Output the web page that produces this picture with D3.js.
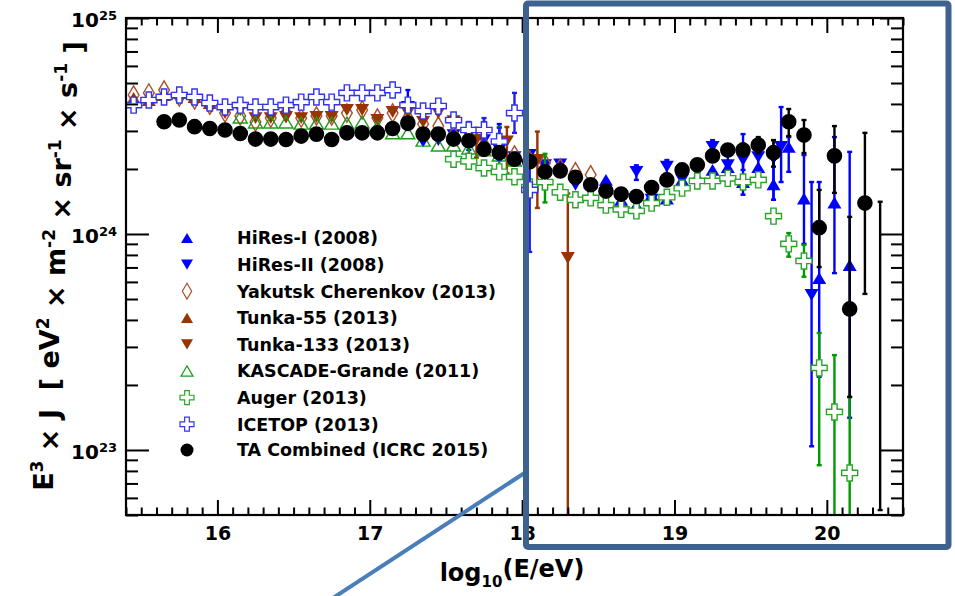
<!DOCTYPE html>
<html>
<head>
<meta charset="utf-8">
<script src="https://cdn.jsdelivr.net/npm/d3@7"></script>
<style>
  body { margin: 0; background: #fff; }
  svg { display: block; font-family: "DejaVu Sans", sans-serif; font-weight: bold; }
</style>
</head>
<body>
<div id="chart"></div>
<script>
// rows: [log10(E/eV), E^3 J, error low, error high]
var hiresI = [
  [18.55, 1.78e24], [18.65, 1.44e24], [18.75, 1.36e24], [18.85, 1.52e24], [18.95, 1.46e24],
  [19.05, 1.78e24], [19.15, 1.84e24], [19.25, 1.98e24], [19.35, 2.04e24, 1.85e24, 2.45e24],
  [19.45, 1.74e24, 1.52e24, 2.20e24], [19.55, 2.04e24, 1.78e24, 2.45e24], [19.65, 1.70e24, 1.44e24, 2.20e24],
  [19.75, 2.53e24, 1.94e24, 2.81e24], [19.85, 1.46e24, 9.0e23, 2.32e24], [19.95, 6.25e23, 2.18e23, 1.74e24],
  [20.05, 1.40e24, 6.59e23, 2.81e24], [20.15, 7.18e23, 1.41e23, 2.40e24]
];
var hiresII = [
  [17.25, 3.87e24, 3.03e24, 4.64e24], [17.35, 2.68e24], [17.45, 2.72e24], [17.55, 2.87e24],
  [17.65, 2.87e24, 2.45e24, 3.16e24], [17.75, 2.72e24, 2.30e24, 3.30e24], [17.85, 2.45e24, 2.27e24, 3.23e24],
  [17.95, 2.27e24], [18.05, 2.32e24], [18.15, 2.08e24], [18.25, 2.10e24], [18.35, 1.69e24],
  [18.45, 1.58e24], [18.55, 1.52e24], [18.65, 1.44e24], [18.75, 1.94e24, 1.78e24, 2.08e24],
  [18.85, 1.44e24], [18.95, 2.05e24, 1.90e24, 2.20e24], [19.05, 1.78e24], [19.15, 1.94e24],
  [19.25, 2.53e24, 2.27e24, 2.72e24], [19.35, 2.08e24], [19.45, 2.20e24, 1.98e24, 2.90e24],
  [19.55, 2.27e24], [19.65, 2.32e24, 1.44e24, 2.72e24], [19.7, 2.53e24, 1.74e24, 3.87e24],
  [19.9, 5.22e23, 1.04e23, 1.74e24]
];
var yakutsk = [
  [15.45, 4.40e24], [15.55, 4.50e24], [15.65, 4.64e24], [15.75, 4.31e24], [15.85, 4.17e24],
  [15.95, 3.95e24], [16.05, 3.63e24], [16.15, 3.52e24], [16.25, 3.30e24], [16.35, 3.44e24],
  [16.45, 3.63e24], [16.55, 3.44e24], [16.65, 3.52e24], [16.75, 3.52e24], [16.85, 3.63e24],
  [16.95, 3.75e24], [17.05, 3.44e24], [17.15, 3.63e24], [17.25, 3.44e24], [17.35, 3.23e24],
  [17.45, 3.16e24], [17.55, 2.87e24], [17.65, 2.81e24], [17.75, 2.58e24], [17.85, 2.45e24],
  [17.95, 2.32e24], [18.05, 2.20e24], [18.15, 2.13e24], [18.25, 2.02e24], [18.35, 1.94e24],
  [18.45, 1.88e24]
];
var tunka55 = [
  [15.45, 4.26e24], [15.55, 4.17e24], [15.65, 4.40e24], [15.75, 4.50e24], [15.85, 4.31e24],
  [15.95, 4.04e24]
];
var tunka133 = [
  [16.05, 3.63e24], [16.15, 3.75e24], [16.25, 3.44e24], [16.35, 3.44e24], [16.45, 3.48e24],
  [16.55, 3.44e24], [16.65, 3.48e24], [16.75, 3.48e24], [16.85, 3.75e24], [16.95, 3.75e24],
  [17.05, 3.37e24], [17.15, 3.67e24], [17.25, 3.63e24], [17.35, 3.30e24], [17.45, 3.63e24],
  [17.55, 3.33e24], [17.7, 2.72e24, 2.26e24, 3.10e24], [17.9, 2.68e24, 1.91e24, 3.13e24],
  [18.1, 2.20e24, 1.32e24, 2.98e24], [18.3, 7.74e23, 1e22, 1.54e24]
];
var kascade = [
  [16.15, 3.48e24], [16.25, 3.30e24], [16.35, 3.30e24], [16.45, 3.30e24], [16.55, 3.26e24],
  [16.65, 3.26e24], [16.75, 3.26e24], [16.85, 3.26e24], [16.95, 3.30e24], [17.05, 3.13e24],
  [17.15, 2.94e24], [17.25, 2.94e24], [17.35, 2.72e24], [17.45, 2.58e24], [17.55, 2.58e24],
  [17.65, 2.50e24, 2.26e24, 3.10e24], [17.75, 2.45e24], [17.85, 2.32e24, 1.91e24, 3.13e24],
  [17.95, 2.20e24]
];
var auger = [
  [17.55, 2.22e24], [17.65, 2.17e24], [17.75, 2.02e24], [17.85, 1.94e24], [17.95, 1.84e24],
  [18.05, 1.65e24], [18.15, 1.74e24, 1.40e24, 2.35e24], [18.25, 1.56e24], [18.35, 1.44e24],
  [18.45, 1.47e24], [18.55, 1.36e24], [18.65, 1.30e24], [18.75, 1.28e24], [18.85, 1.39e24],
  [18.95, 1.48e24], [19.05, 1.63e24], [19.15, 1.76e24], [19.25, 1.76e24], [19.35, 1.81e24],
  [19.45, 1.74e24], [19.55, 1.78e24], [19.65, 1.21e24], [19.75, 9.0e23, 7.85e23, 1.01e24],
  [19.85, 7.5e23, 6.34e23, 8.9e23], [19.95, 2.4e23, 8.5e22, 3.48e23], [20.05, 1.5e23, 1e22, 2.75e23],
  [20.15, 7.83e22, 1e22, 1.76e23]
];
var icetop = [
  [15.45, 3.95e24], [15.55, 4.17e24], [15.65, 4.31e24], [15.75, 4.40e24], [15.85, 4.31e24],
  [15.95, 4.04e24], [16.05, 3.87e24], [16.15, 3.95e24], [16.25, 3.87e24], [16.35, 3.87e24],
  [16.45, 3.95e24], [16.55, 4.08e24], [16.65, 4.31e24], [16.75, 4.08e24], [16.85, 4.50e24],
  [16.95, 4.50e24], [17.05, 4.50e24], [17.15, 4.64e24], [17.25, 3.95e24], [17.35, 3.71e24],
  [17.45, 3.91e24], [17.55, 3.37e24], [17.65, 3.03e24, 2.81e24, 3.30e24],
  [17.75, 3.03e24, 2.70e24, 3.44e24], [17.85, 2.68e24, 2.20e24, 3.10e24],
  [17.95, 3.63e24, 2.94e24, 4.50e24], [18.05, 1.60e24, 8.26e23, 2.20e24]
];
var taCombined = [
  [15.65, 3.31e24], [15.75, 3.37e24], [15.85, 3.14e24], [15.95, 3.08e24], [16.05, 3.03e24],
  [16.15, 2.92e24], [16.25, 2.75e24], [16.35, 2.75e24], [16.45, 2.74e24], [16.55, 2.84e24],
  [16.65, 2.90e24], [16.75, 2.74e24], [16.85, 2.94e24], [16.95, 2.94e24], [17.05, 2.94e24],
  [17.15, 3.08e24], [17.25, 3.26e24], [17.35, 2.90e24], [17.45, 2.90e24], [17.55, 2.75e24],
  [17.65, 2.70e24], [17.75, 2.47e24], [17.85, 2.38e24], [17.95, 2.22e24], [18.05, 2.16e24],
  [18.15, 1.94e24], [18.25, 1.96e24], [18.35, 1.83e24], [18.45, 1.69e24], [18.55, 1.58e24],
  [18.65, 1.53e24], [18.75, 1.49e24], [18.85, 1.64e24], [18.95, 1.78e24], [19.05, 1.98e24],
  [19.15, 2.09e24], [19.25, 2.30e24], [19.35, 2.45e24], [19.45, 2.45e24, 2.30e24, 2.62e24],
  [19.55, 2.58e24, 2.36e24, 2.81e24], [19.65, 2.38e24, 2.05e24, 2.72e24],
  [19.75, 3.31e24, 2.84e24, 3.79e24], [19.85, 2.87e24, 2.37e24, 3.37e24],
  [19.95, 1.07e24, 7.03e23, 1.60e24], [20.05, 2.30e24, 1.55e24, 3.16e24],
  [20.15, 4.50e23, 1.76e23, 1.20e24], [20.25, 1.39e24, 5.28e23, 2.94e24],
  [20.35, null, 5.27e22, 1.41e24]
];

var xTicks = [16, 17, 18, 19, 20];
var yTicks = [1e23, 1e24, 1e25];

var series = [
  { name: 'HiRes-I (2008)', data: hiresI, shape: 'up', fill: '#0000ff', stroke: 'none', bar: '#0000ff' },
  { name: 'HiRes-II (2008)', data: hiresII, shape: 'down', fill: '#0000ff', stroke: 'none', bar: '#0000ff' },
  { name: 'Yakutsk Cherenkov (2013)', data: yakutsk, shape: 'diamond', fill: 'none', stroke: '#a9502a', bar: '#a9502a' },
  { name: 'Tunka-55 (2013)', data: tunka55, shape: 'up', fill: '#993300', stroke: 'none', bar: '#993300' },
  { name: 'Tunka-133 (2013)', data: tunka133, shape: 'down', fill: '#993300', stroke: 'none', bar: '#993300' },
  { name: 'KASCADE-Grande (2011)', data: kascade, shape: 'up', fill: 'none', stroke: '#1a9e1a', bar: '#009900' },
  { name: 'Auger (2013)', data: auger, shape: 'cross', fill: '#fff', stroke: '#2aa52a', bar: '#009900' },
  { name: 'ICETOP (2013)', data: icetop, shape: 'cross', fill: '#fff', stroke: '#3333ee', bar: '#2020ee' },
  { name: 'TA Combined (ICRC 2015)', data: taCombined, shape: 'circle', fill: '#000', stroke: 'none', bar: '#000' }
];

var W = 955, H = 596;
var plot = { left: 126, right: 903, top: 18, bottom: 515 };

var svg = d3.select('#chart').append('svg')
  .attr('width', W).attr('height', H);

var x = d3.scaleLinear().domain([15.4, 20.5]).range([plot.left, plot.right]);
var y = d3.scaleLog().domain([5e22, 1e25]).range([plot.bottom, plot.top]);

function shapePath(shape, s) {
  if (shape === 'up' || shape === 'down') {
    var k = shape === 'up' ? 1 : -1, h = s * 0.85;
    return 'M0,' + (-h * k) + 'L' + s + ',' + (h * k) + 'L' + (-s) + ',' + (h * k) + 'Z';
  }
  if (shape === 'diamond') {
    return 'M0,' + (-s * 1.45) + 'L' + (s * 0.85) + ',0L0,' + (s * 1.45) + 'L' + (-s * 0.85) + ',0Z';
  }
  if (shape === 'cross') {
    var t = s / 3;
    var p = [[-t,-s],[t,-s],[t,-t],[s,-t],[s,t],[t,t],[t,s],[-t,s],[-t,t],[-s,t],[-s,-t],[-t,-t]];
    return 'M' + p.map(function(q) { return q.join(','); }).join('L') + 'Z';
  }
  return d3.symbol(d3.symbolCircle, Math.PI * s * s)();
}

var markerSize = { up: 7, down: 7, diamond: 6.3, cross: 8, circle: 7.8 };
var legendSize = { up: 6, down: 6, diamond: 5.5, cross: 7, circle: 6.5 };

svg.append('clipPath').attr('id', 'clip')
  .append('rect')
  .attr('x', plot.left).attr('y', plot.top)
  .attr('width', plot.right - plot.left).attr('height', plot.bottom - plot.top);

var dataLayer = svg.append('g').attr('clip-path', 'url(#clip)');

// error bars and markers, one series after another
series.forEach(function(sr) {
  var g = dataLayer.append('g');
  var withErr = sr.data.filter(function(d) { return d[2] != null; });

  g.selectAll('line.bar').data(withErr).enter().append('line')
    .attr('class', 'bar')
    .attr('x1', function(d) { return x(d[0]); }).attr('x2', function(d) { return x(d[0]); })
    .attr('y1', function(d) { return y(d[2]); }).attr('y2', function(d) { return y(d[3]); })
    .attr('stroke', sr.bar).attr('stroke-width', 2.4);

  [2, 3].forEach(function(k) {
    g.selectAll('line.cap' + k).data(withErr).enter().append('line')
      .attr('class', 'cap' + k)
      .attr('x1', function(d) { return x(d[0]) - 2.5; }).attr('x2', function(d) { return x(d[0]) + 2.5; })
      .attr('y1', function(d) { return y(d[k]); }).attr('y2', function(d) { return y(d[k]); })
      .attr('stroke', sr.bar).attr('stroke-width', 2.4);
  });

  g.selectAll('path.mk').data(sr.data.filter(function(d) { return d[1] != null; }))
    .enter().append('path')
    .attr('class', 'mk')
    .attr('transform', function(d) { return 'translate(' + x(d[0]) + ',' + y(d[1]) + ')'; })
    .attr('d', shapePath(sr.shape, markerSize[sr.shape]))
    .attr('fill', sr.fill)
    .attr('stroke', sr.stroke)
    .attr('stroke-width', sr.stroke === 'none' ? 0 : 1.4);
});

// axes
function styleAxis(g) {
  g.select('.domain').remove();
  g.selectAll('.tick line').attr('stroke', '#000').attr('stroke-width', 2);
  g.selectAll('.tick text').attr('fill', '#000')
    .style('font-weight', 'bold').style('font-family', '"DejaVu Sans", sans-serif');
}

var xMinor = d3.range(154, 206).map(function(v) { return v / 10; })
  .filter(function(v) { return Math.abs(v - Math.round(v)) > 0.01; });

svg.append('g').attr('transform', 'translate(0,' + plot.bottom + ')')
  .call(d3.axisBottom(x).tickValues(xTicks).tickSize(-15).tickPadding(12).tickFormat(d3.format('d')))
  .call(styleAxis)
  .selectAll('text').style('font-size', '19px');
svg.append('g').attr('transform', 'translate(0,' + plot.bottom + ')')
  .call(d3.axisBottom(x).tickValues(xMinor).tickSize(-7.5).tickFormat(''))
  .call(styleAxis);
svg.append('g').attr('transform', 'translate(0,' + plot.top + ')')
  .call(d3.axisTop(x).tickValues(xTicks).tickSize(-15).tickFormat(''))
  .call(styleAxis);
svg.append('g').attr('transform', 'translate(0,' + plot.top + ')')
  .call(d3.axisTop(x).tickValues(xMinor).tickSize(-7.5).tickFormat(''))
  .call(styleAxis);

var yMinor = [];
[1e22, 1e23, 1e24].forEach(function(dec) {
  for (var m = 2; m <= 9; m++) if (m * dec >= 5e22) yMinor.push(m * dec);
});

var yAxisG = svg.append('g').attr('transform', 'translate(' + plot.left + ',0)')
  .call(d3.axisLeft(y).tickValues(yTicks).tickSize(-23).tickPadding(9).tickFormat(''))
  .call(styleAxis);
yAxisG.selectAll('.tick text').each(function(d) {
  var t = d3.select(this).style('font-size', '20px').attr('dy', '0.42em');
  t.append('tspan').text('10');
  t.append('tspan').attr('dy', '-0.55em').style('font-size', '13px').text(Math.round(Math.log10(d)));
});
svg.append('g').attr('transform', 'translate(' + plot.left + ',0)')
  .call(d3.axisLeft(y).tickValues(yMinor).tickSize(-12).tickFormat(''))
  .call(styleAxis);
svg.append('g').attr('transform', 'translate(' + plot.right + ',0)')
  .call(d3.axisRight(y).tickValues(yTicks).tickSize(-23).tickFormat(''))
  .call(styleAxis);
svg.append('g').attr('transform', 'translate(' + plot.right + ',0)')
  .call(d3.axisRight(y).tickValues(yMinor).tickSize(-12).tickFormat(''))
  .call(styleAxis);

// frame
svg.append('rect')
  .attr('x', plot.left).attr('y', plot.top)
  .attr('width', plot.right - plot.left).attr('height', plot.bottom - plot.top)
  .attr('fill', 'none').attr('stroke', '#000').attr('stroke-width', 2.2);

// axis titles
function richText(sel, runs, supSize) {
  runs.forEach(function(r) {
    var ts = sel.append('tspan').text(r[0]);
    if (r[1] === 'sup') ts.attr('dy', '-0.6em').style('font-size', supSize);
    if (r[1] === 'sub') ts.attr('dy', '0.4em').style('font-size', supSize);
    if (r[1] === 'back-sup') ts.attr('dy', '0.6em');
    if (r[1] === 'back-sub') ts.attr('dy', '-0.4em');
  });
}

var yTitle = svg.append('text')
  .attr('transform', 'translate(53,266) rotate(-90)')
  .attr('text-anchor', 'middle')
  .style('font-size', '27px').style('white-space', 'pre');
richText(yTitle, [
  ['E'], ['3', 'sup'], [' \u00d7 J  [ eV', 'back-sup'], ['2', 'sup'], [' \u00d7 m', 'back-sup'],
  ['-2', 'sup'], [' \u00d7 sr', 'back-sup'], ['-1', 'sup'], [' \u00d7 s', 'back-sup'], ['-1', 'sup'],
  [' ]', 'back-sup']
], '17px');

var xTitle = svg.append('text')
  .attr('x', 512).attr('y', 581)
  .attr('text-anchor', 'middle')
  .style('font-size', '24px');
richText(xTitle, [['log'], ['10', 'sub'], ['(E/eV)', 'back-sub']], '15px');

// legend
var legend = svg.append('g').attr('transform', 'translate(187,238)');
series.forEach(function(sr, i) {
  var row = legend.append('g').attr('transform', 'translate(0,' + (i < 8 ? i * 26.6 : 212) + ')');
  row.append('path')
    .attr('d', shapePath(sr.shape, legendSize[sr.shape]))
    .attr('fill', sr.fill).attr('stroke', sr.stroke)
    .attr('stroke-width', sr.stroke === 'none' ? 0 : 1.2);
  row.append('text')
    .attr('x', 50).attr('dy', '0.36em')
    .style('font-size', '17.5px')
    .text(sr.name);
});

// slide annotation: zoom box and connector
svg.append('line')
  .attr('x1', 333).attr('y1', 598).attr('x2', 526).attr('y2', 472)
  .attr('stroke', '#4a7ebb').attr('stroke-width', 4);
svg.append('rect')
  .attr('x', 526).attr('y', 3.5).attr('width', 422.5).attr('height', 543.5).attr('rx', 2)
  .attr('fill', 'none').attr('stroke', '#3e6290').attr('stroke-width', 6);
</script>
</body>
</html>
